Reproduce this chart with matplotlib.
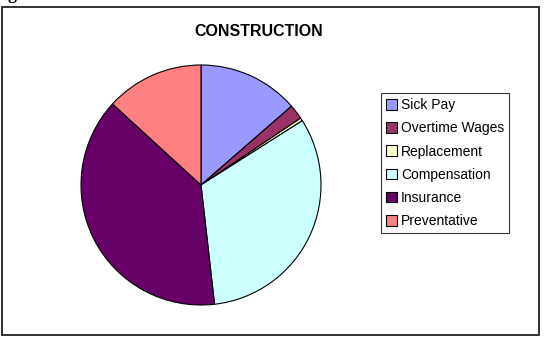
import matplotlib
matplotlib.use("Agg")
import matplotlib.pyplot as plt
from matplotlib.patches import Rectangle, Patch

categories = ["Sick Pay", "Overtime Wages", "Replacement", "Compensation", "Insurance", "Preventative"]
values = [13.6, 2.0, 0.4, 32.2, 38.6, 13.2]
colors = ["#9999FF", "#993366", "#FFFFCC", "#CCFFFF", "#660066", "#FF8080"]
title = "CONSTRUCTION"

plt.rcParams['font.family'] = ['Liberation Sans', 'DejaVu Sans']

W, H = 544, 338
fig = plt.figure(figsize=(W / 100, H / 100), dpi=100)

# outer chart frame
fig.patches.append(Rectangle((2 / W, 3 / H), 537 / W, 328 / H, transform=fig.transFigure,
                             fill=False, edgecolor="#222222", linewidth=1.3))
# cut-off text fragment at top-left (only its descender is visible)
fig.text(7 / W, 1 + 1 / H, "g", fontsize=13, fontweight="bold", ha="left", va="baseline",
         family="Liberation Serif")

cx, cy, r = 201, 185, 120
ax = fig.add_axes([(cx - r) / W, (H - cy - r) / H, 2 * r / W, 2 * r / H])
ax.pie(values, colors=colors, startangle=90, counterclock=False,
       wedgeprops=dict(edgecolor="black", linewidth=0.8))
ax.set_aspect("equal")
ax.set_xlim(-1, 1)
ax.set_ylim(-1, 1)
ax.axis("off")

fig.text(259 / W, 1 - 31 / H, title, fontsize=11.5, fontweight="bold", ha="center", va="center")

handles = [Patch(facecolor=c, edgecolor="black", linewidth=0.8) for c in colors]
leg = fig.legend(handles, categories, loc="upper left",
                 bbox_to_anchor=(381 / W, 1 - 93 / H), fontsize=10,
                 frameon=True, fancybox=False, edgecolor="black",
                 handlelength=0.8, handleheight=0.8, handletextpad=0.25,
                 labelspacing=0.66, borderpad=0.38, borderaxespad=0)
leg.get_frame().set_linewidth(0.8)

fig.savefig("out.png", dpi=100)
